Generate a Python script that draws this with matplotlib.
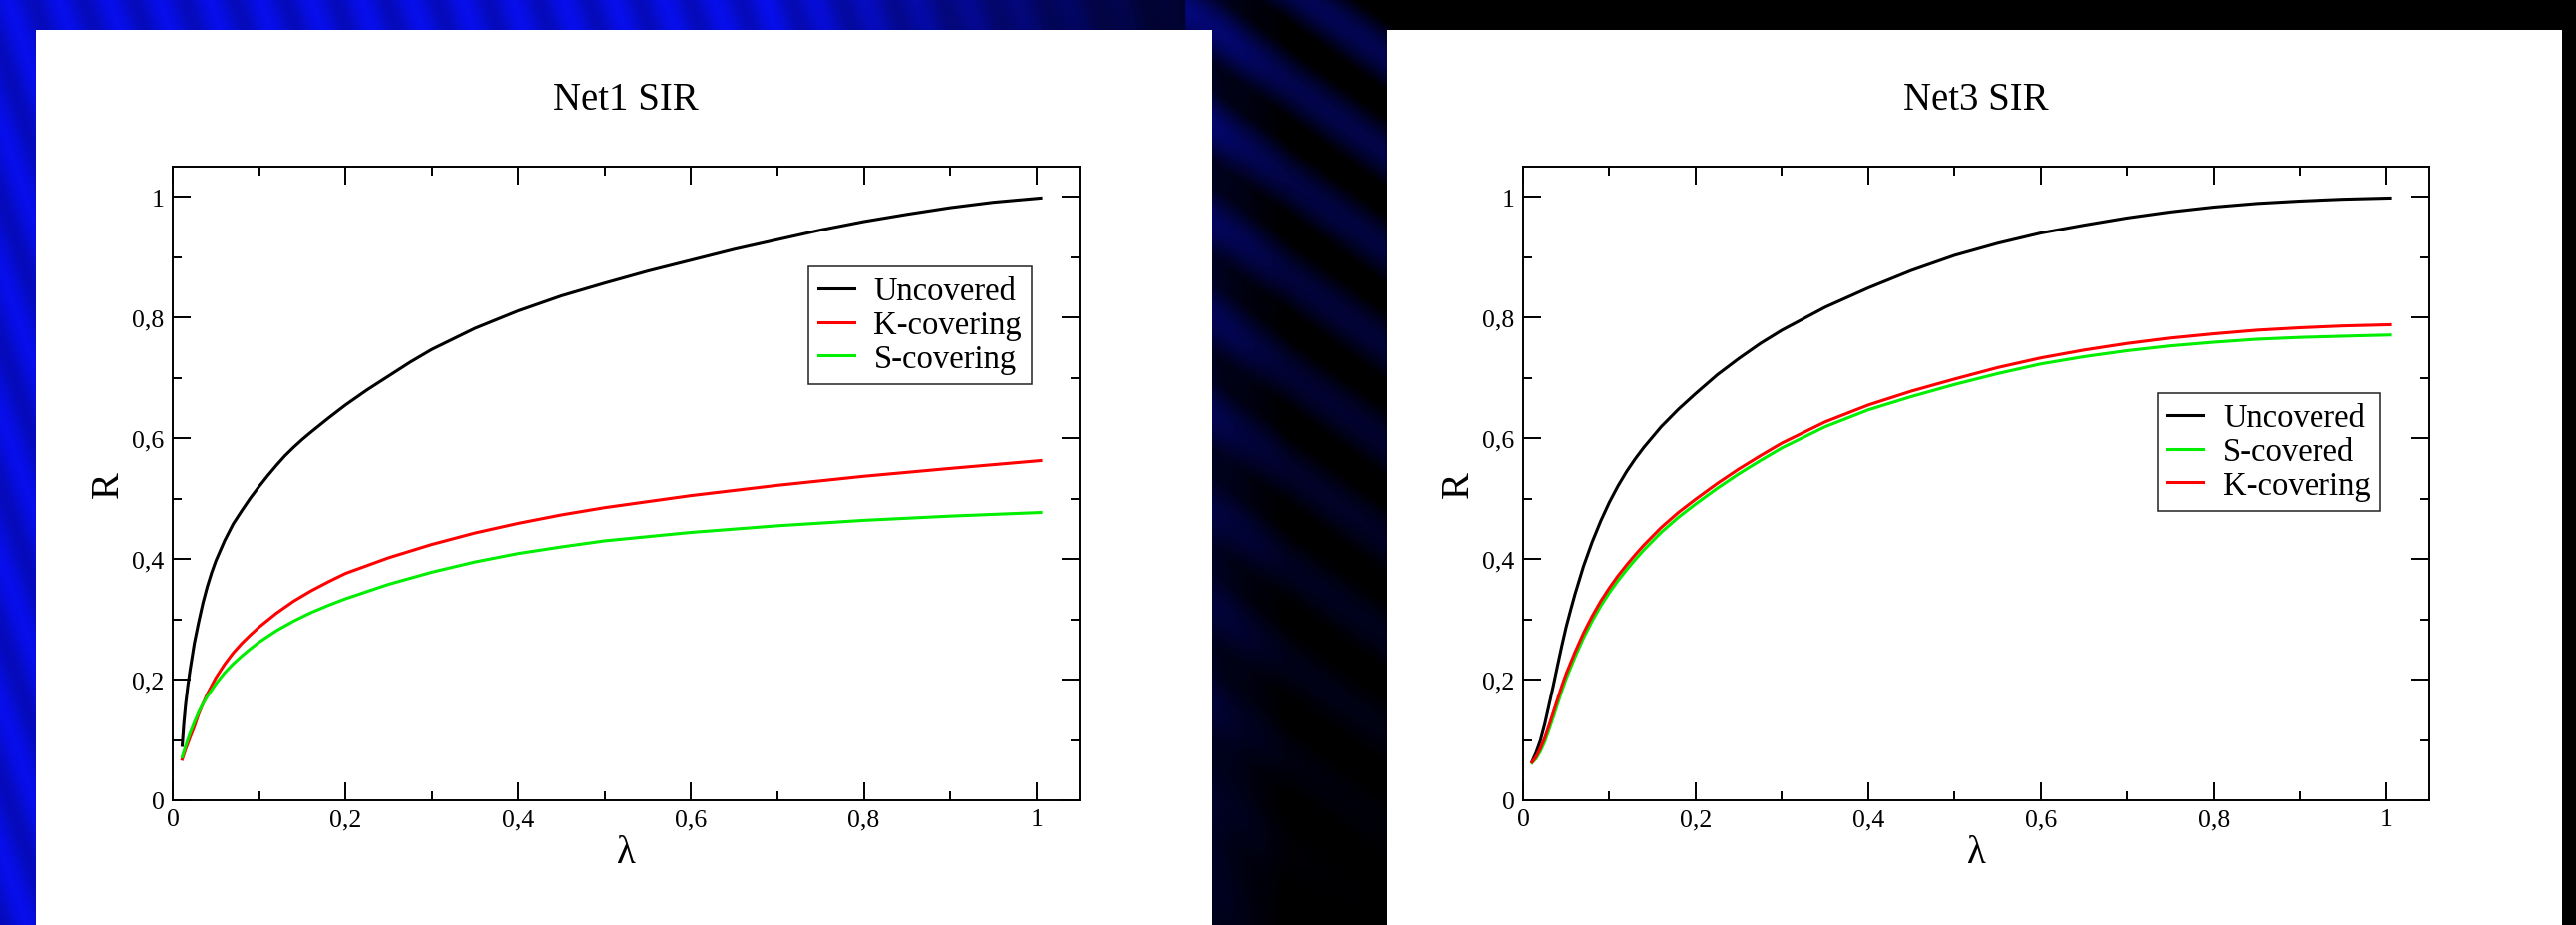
import numpy as np
import matplotlib
matplotlib.use("Agg")
import matplotlib.pyplot as plt
from matplotlib.patches import Rectangle
from matplotlib.ticker import MultipleLocator, FixedLocator, FixedFormatter

plt.rcParams['font.family'] = ['Liberation Serif', 'DejaVu Serif']

# --- valeurs ---
# Net1 SIR
net1_x_unc = [0.011, 0.013, 0.015, 0.0175, 0.02, 0.025, 0.03, 0.035, 0.04, 0.045, 0.05, 0.06,
              0.07, 0.08, 0.09, 0.1, 0.11, 0.12, 0.13, 0.14, 0.15, 0.16, 0.18, 0.2, 0.225,
              0.25, 0.275, 0.3, 0.35, 0.4, 0.45, 0.5, 0.55, 0.6, 0.65, 0.7, 0.75, 0.8, 0.85,
              0.9, 0.95, 1.005]
net1_unc = [0.091, 0.13, 0.16, 0.19, 0.215, 0.26, 0.295, 0.327, 0.354, 0.377, 0.397, 0.43,
            0.458, 0.48, 0.501, 0.52, 0.538, 0.555, 0.571, 0.585, 0.598, 0.61, 0.633, 0.655, 0.68,
            0.703, 0.726, 0.747, 0.782, 0.811, 0.836, 0.857, 0.877, 0.895, 0.913, 0.929, 0.945,
            0.959, 0.971, 0.982, 0.991, 0.998]

net1_x = [0.011, 0.015, 0.02, 0.025, 0.03, 0.035, 0.04, 0.05, 0.06, 0.07, 0.08, 0.09, 0.1,
          0.12, 0.14, 0.16, 0.18, 0.2, 0.25, 0.3, 0.35, 0.4, 0.45, 0.5, 0.6, 0.7, 0.8, 0.9, 1.005]
net1_k = [0.068, 0.085, 0.104, 0.122, 0.143, 0.16, 0.176, 0.203, 0.225, 0.244, 0.26, 0.274,
          0.287, 0.31, 0.33, 0.347, 0.362, 0.376, 0.402, 0.424, 0.443, 0.459, 0.473, 0.485,
          0.505, 0.522, 0.537, 0.55, 0.563]
net1_s = [0.072, 0.09, 0.111, 0.129, 0.146, 0.16, 0.172, 0.193, 0.211, 0.226, 0.239, 0.251,
          0.262, 0.281, 0.297, 0.311, 0.323, 0.334, 0.358, 0.378, 0.395, 0.409, 0.42, 0.43,
          0.444, 0.455, 0.464, 0.471, 0.477]

# Net3 SIR
net3_x_unc = [0.0104, 0.015, 0.02, 0.025, 0.03, 0.035, 0.04, 0.045, 0.05, 0.055, 0.06, 0.07,
              0.08, 0.09, 0.1, 0.11, 0.12, 0.13, 0.14, 0.15, 0.16, 0.18, 0.2, 0.225, 0.25,
              0.275, 0.3, 0.35, 0.4, 0.45, 0.5, 0.55, 0.6, 0.65, 0.7, 0.75, 0.8, 0.85, 0.9,
              0.95, 1.005]
net3_unc = [0.064, 0.079, 0.099, 0.126, 0.158, 0.19, 0.224, 0.257, 0.288, 0.315, 0.341, 0.388,
            0.428, 0.463, 0.494, 0.521, 0.545, 0.566, 0.585, 0.602, 0.619, 0.648, 0.674, 0.705,
            0.732, 0.757, 0.779, 0.817, 0.849, 0.878, 0.903, 0.923, 0.94, 0.953, 0.965, 0.975,
            0.983, 0.989, 0.993, 0.996, 0.998]

net3_x = [0.0104, 0.015, 0.02, 0.025, 0.03, 0.035, 0.04, 0.045, 0.05, 0.06, 0.07, 0.08, 0.09,
          0.1, 0.11, 0.12, 0.13, 0.14, 0.16, 0.18, 0.2, 0.225, 0.25, 0.275, 0.3, 0.35, 0.4,
          0.45, 0.5, 0.55, 0.6, 0.65, 0.7, 0.75, 0.8, 0.85, 0.9, 0.95, 1.005]
net3_k = [0.063, 0.072, 0.086, 0.103, 0.124, 0.146, 0.168, 0.19, 0.21, 0.245, 0.277, 0.305,
          0.33, 0.352, 0.372, 0.39, 0.407, 0.423, 0.452, 0.477, 0.499, 0.525, 0.549, 0.571,
          0.592, 0.627, 0.655, 0.678, 0.698, 0.717, 0.733, 0.746, 0.757, 0.766, 0.773, 0.779,
          0.783, 0.786, 0.788]
net3_s = [0.062, 0.069, 0.081, 0.097, 0.117, 0.138, 0.16, 0.182, 0.202, 0.237, 0.269, 0.297,
          0.322, 0.344, 0.364, 0.382, 0.399, 0.415, 0.444, 0.469, 0.491, 0.517, 0.541, 0.563,
          0.584, 0.619, 0.647, 0.669, 0.689, 0.707, 0.723, 0.735, 0.745, 0.753, 0.759, 0.764,
          0.767, 0.769, 0.771]

tick_vals = [0, 0.2, 0.4, 0.6, 0.8, 1.0]
tick_labels = ["0", "0,2", "0,4", "0,6", "0,8", "1"]

W, H = 2581, 928
fig = plt.figure(figsize=(W / 100, H / 100), dpi=100)

# fond bleu / noir du diaporama
bg = fig.add_axes([0, 0, 1, 1], zorder=0)
xx, yy = np.meshgrid(np.linspace(0, 1, 900), np.linspace(1, 0, 320))
fade = np.clip((0.50 - xx) / 0.2, 0, 1)
streak = 0.8 + 0.2 * np.sin(160 * xx + 20 * yy) ** 2
gap = ((xx > 0.46) & (xx < 0.54)) * np.clip(0.25 + 0.35 * np.sin(120 * xx + 60 * yy), 0, 1) * yy
blue = np.clip(fade * streak * 0.92 + gap * 0.55, 0, 1)
img = np.dstack([blue * 0.03, blue * 0.06, blue])
bg.imshow(img, aspect='auto', extent=[0, 1, 0, 1])
bg.set_axis_off()

# panneaux blancs
for x0, x1 in [(36, 1214), (1390, 2567)]:
    fig.patches.append(Rectangle((x0 / W, 0), (x1 - x0) / W, 1 - 31 / H,
                                 transform=fig.transFigure, facecolor='white',
                                 edgecolor='none', zorder=1))


def style_axes(ax, title, x_center):
    ax.set_xlim(0, 1.05)
    ax.set_ylim(0, 1.05)
    for ax_ in [ax.xaxis, ax.yaxis]:
        ax_.set_major_locator(FixedLocator(tick_vals))
        ax_.set_major_formatter(FixedFormatter(tick_labels))
        ax_.set_minor_locator(MultipleLocator(0.1))
    ax.tick_params(which='both', direction='in', top=True, right=True, width=1.4,
                   labelsize=18.5, pad=6)
    ax.tick_params(which='major', length=13)
    ax.tick_params(which='minor', length=6.5)
    for sp in ax.spines.values():
        sp.set_linewidth(1.4)
    ax.set_xlabel('λ', fontsize=28, labelpad=3)
    ax.set_ylabel('R', fontsize=29, labelpad=4)
    fig.text(x_center / W, 1 - 101 / H, title, fontsize=28, ha='center', va='center', zorder=5)


lw = 2.2
ax1 = fig.add_axes([173 / W, 1 - 803 / H, 909 / W, 635 / H], zorder=3)
ax1.plot(net1_x_unc, net1_unc, color='black', lw=lw, label='Uncovered')
ax1.plot(net1_x, net1_k, color='#ff0000', lw=lw, label='K-covering')
ax1.plot(net1_x, net1_s, color='#00ee00', lw=lw, label='S-covering')
style_axes(ax1, 'Net1 SIR', 627)

ax2 = fig.add_axes([1526 / W, 1 - 803 / H, 908 / W, 635 / H], zorder=3)
ax2.plot(net3_x_unc, net3_unc, color='black', lw=lw, label='Uncovered')
ax2.plot(net3_x, net3_s, color='#00ee00', lw=lw, label='S-covered')
ax2.plot(net3_x, net3_k, color='#ff0000', lw=lw, label='K-covering')
style_axes(ax2, 'Net3 SIR', 1980)

for ax, anchor in [(ax1, (0.701, 0.8425)), (ax2, (0.700, 0.6425))]:
    leg = ax.legend(loc='upper left', bbox_to_anchor=anchor, borderaxespad=0,
                    fontsize=23.5, fancybox=False, handlelength=1.1,
                    handletextpad=0.6, borderpad=0.3, labelspacing=0.1, framealpha=1)
    leg.get_frame().set_edgecolor('#222222')
    leg.get_frame().set_linewidth(1.1)

fig.savefig('out.png', dpi=100)
